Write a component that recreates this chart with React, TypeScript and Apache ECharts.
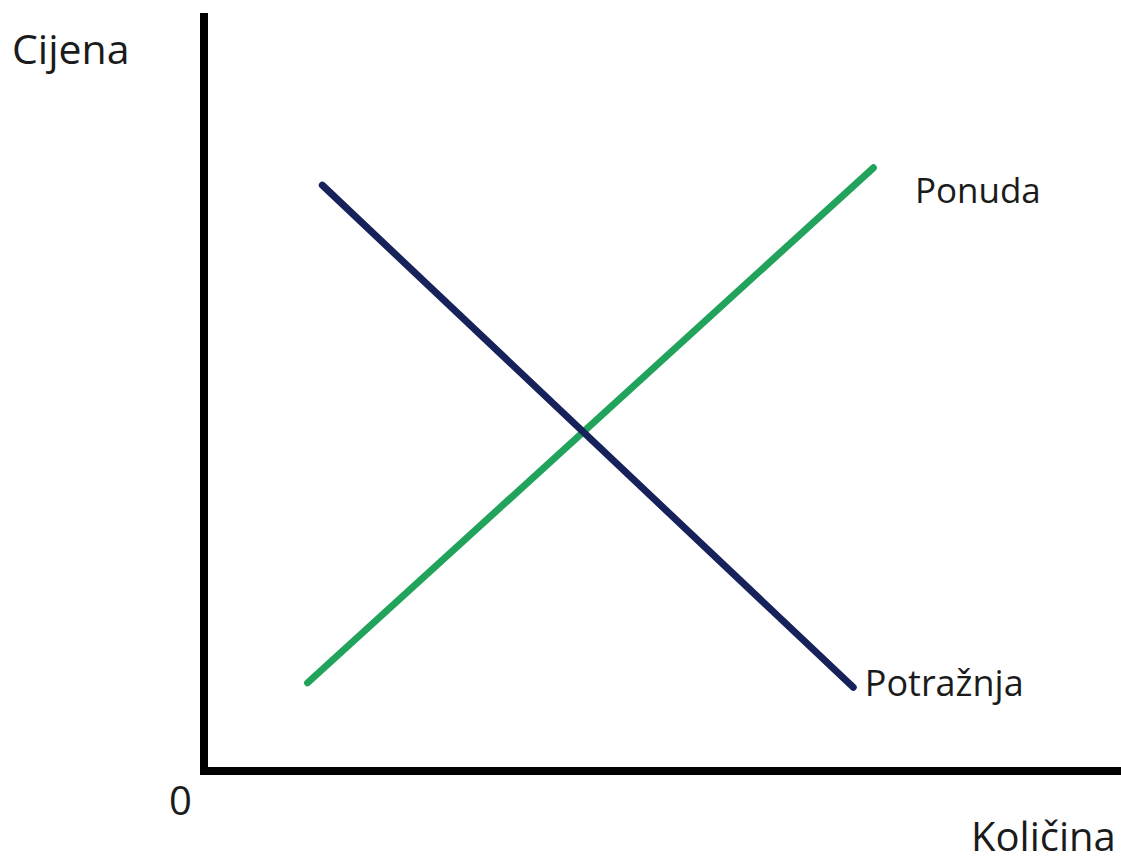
import React, { useEffect, useRef } from "react";
import * as echarts from "echarts";

// Arbitrary units: quantity (x) and price (y), 0..100
const quantityRange = [0, 100];
const priceRange = [0, 100];

const demandName = "Potražnja";
const demandQuantity = [12.9, 70.8];
const demandPrice = [77.7, 11.1];

const supplyName = "Ponuda";
const supplyQuantity = [11.3, 73.0];
const supplyPrice = [11.7, 80.0];

const priceAxisTitle = "Cijena";
const quantityAxisTitle = "Količina";
const originLabel = "0";

const FONT = "'Open Sans', 'Noto Sans', sans-serif";
const TEXT_COLOR = "#1b1b1b";

function pairs(xs: number[], ys: number[]) {
  return xs.map((x, i) => [x, ys[i]]);
}

export default function App() {
  const ref = useRef<HTMLDivElement>(null);
  useEffect(() => {
    if (!ref.current) return;
    const chart = echarts.init(ref.current, undefined, { renderer: "svg" });
    const supplyData = pairs(supplyQuantity, supplyPrice);
    const demandData = pairs(demandQuantity, demandPrice);
    const axisCommon = {
      type: "value" as const,
      axisLine: { show: true, onZero: false, lineStyle: { color: "#000", width: 8, cap: "square" } },
      axisTick: { show: false },
      axisLabel: { show: false },
      splitLine: { show: false },
    };
    chart.setOption({
      animation: false,
      backgroundColor: "#ffffff",
      grid: { left: 204, right: 0, top: 17, bottom: 92 },
      xAxis: { ...axisCommon, min: quantityRange[0], max: quantityRange[1] },
      yAxis: { ...axisCommon, min: priceRange[0], max: priceRange[1] },
      series: [
        {
          name: supplyName,
          type: "line",
          data: supplyData,
          symbol: "none",
          lineStyle: { color: "#22a35c", width: 7, cap: "round" },
          markPoint: {
            symbol: "circle",
            symbolSize: 1,
            itemStyle: { color: "rgba(0,0,0,0)" },
            data: [{ coord: supplyData[supplyData.length - 1] }],
            label: {
              show: true,
              position: "right",
              distance: 0,
              offset: [41, 22],
              formatter: supplyName,
              fontFamily: FONT,
              fontSize: 35,
              color: TEXT_COLOR,
            },
          },
        },
        {
          name: demandName,
          type: "line",
          data: demandData,
          symbol: "none",
          lineStyle: { color: "#17225a", width: 7, cap: "round" },
          markPoint: {
            symbol: "circle",
            symbolSize: 1,
            itemStyle: { color: "rgba(0,0,0,0)" },
            data: [{ coord: demandData[demandData.length - 1] }],
            label: {
              show: true,
              position: "right",
              distance: 0,
              offset: [11, -5],
              formatter: demandName,
              fontFamily: FONT,
              fontSize: 36,
              color: TEXT_COLOR,
            },
          },
        },
      ],
      graphic: [
        {
          type: "text",
          left: 12,
          top: 27,
          style: { text: priceAxisTitle, fontFamily: FONT, fontSize: 41, fill: TEXT_COLOR },
        },
        {
          type: "text",
          left: 169,
          top: 779,
          style: { text: originLabel, fontFamily: FONT, fontSize: 40, fill: TEXT_COLOR },
        },
        {
          type: "text",
          left: 971,
          top: 815,
          style: { text: quantityAxisTitle, fontFamily: FONT, fontSize: 40, fill: TEXT_COLOR },
        },
      ],
    });
    return () => chart.dispose();
  }, []);
  return (
    <div
      ref={ref}
      style={{ position: "fixed", left: 0, top: 0, width: 1121, height: 863, background: "#fff" }}
    />
  );
}
